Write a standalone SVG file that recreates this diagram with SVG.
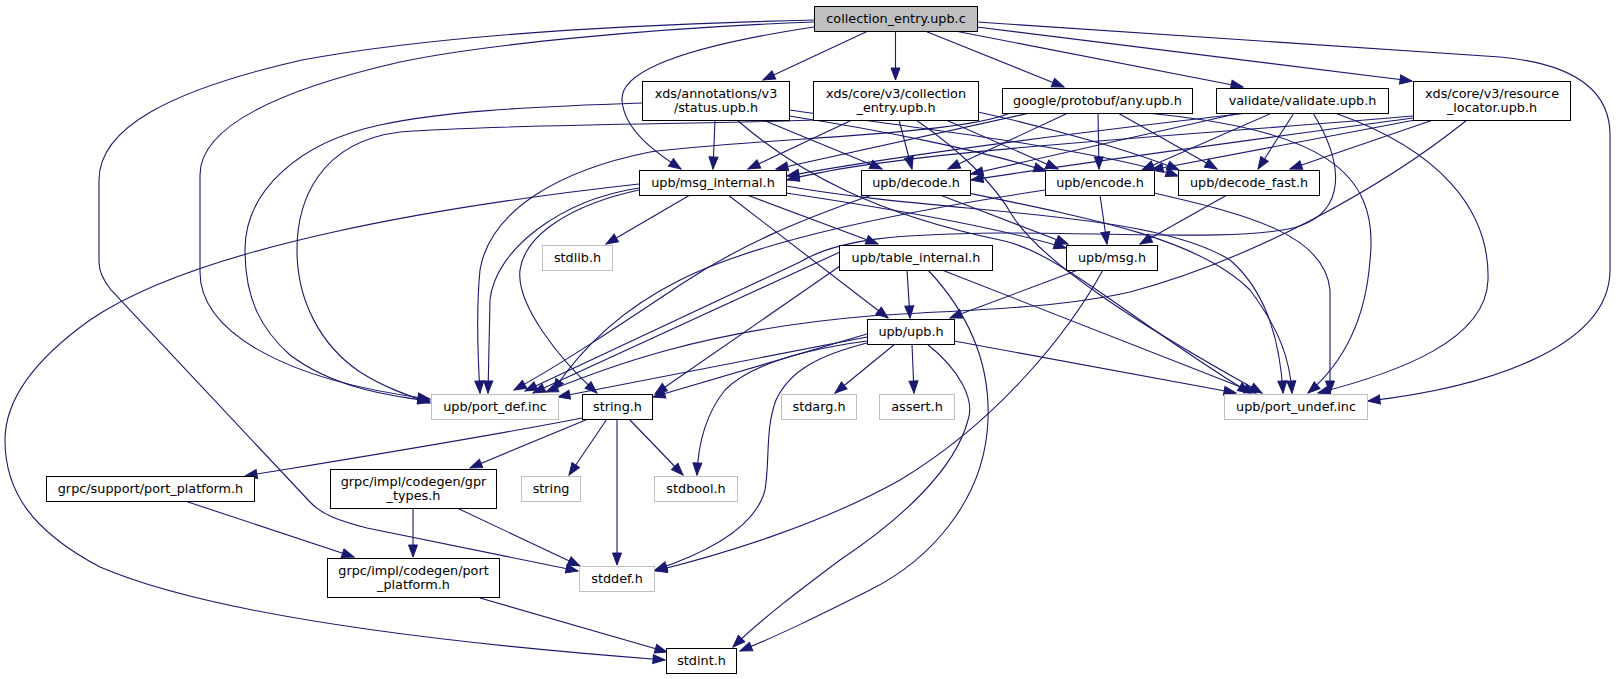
<svg xmlns="http://www.w3.org/2000/svg" width="1618" height="679" viewBox="0 0 1618 679">
<style>
.n rect{fill:#ffffff;stroke:#000000;stroke-width:1}
.n.g rect{stroke:#bfbfbf}
.n.root rect{fill:#bfbfbf}
.n text{font-family:"DejaVu Sans","Liberation Sans",sans-serif;font-size:12.8px;fill:#000000;text-anchor:middle}
#edges path{fill:none;stroke:#191970;stroke-width:1.1;marker-end:url(#ah)}
</style>
<defs>
<marker id="ah" markerWidth="12" markerHeight="9" refX="12" refY="4.5" orient="auto" markerUnits="userSpaceOnUse" overflow="visible">
<path d="M0,0 L12,4.5 L0,9 z" fill="#191970" stroke="#191970" stroke-width="1"/>
</marker>
</defs>
<rect x="0" y="0" width="1618" height="679" fill="#ffffff"/>
<g id="edges">
<path d="M868,31 L763,80"/>
<path d="M895.5,31 L895.5,80"/>
<path d="M925,31 L1064,87"/>
<path d="M955,31 L1243,87"/>
<path d="M977,27 L1412,81"/>
<path d="M977,22 L1500,57 C1565,63 1610,85 1610,135 L1610,270 C1610,350 1480,388 1368,401"/>
<path d="M814,27 C715,42 620,65 622,100 C624,130 655,152 681,169"/>
<path d="M814,22 C650,28 480,45 400,62 C300,85 200,120 200,175 L200,272 C200,330 280,380 430,399"/>
<path d="M814,20 C600,25 420,38 302,60 C170,90 99,128 99,180 L99,262 C99,272 103,280 111,290 L310,502 C322,515 340,521 367,528 L578,571"/>
<path d="M715,120 L713,169"/>
<path d="M763,120 L882,169"/>
<path d="M642,103 C520,107 440,112 380,125 C300,142 245,190 245,250 C245,300 262,330 290,355 C330,385 380,395 430,401"/>
<path d="M789,116 C880,130 980,150 1046,171"/>
<path d="M789,110 C900,125 1100,150 1178,176"/>
<path d="M737,120 C800,175 880,215 1000,240 C1060,252 1130,320 1250,393"/>
<path d="M852,120 L748,169"/>
<path d="M899,120 L912,169"/>
<path d="M946,120 L1058,169"/>
<path d="M978,112 C1050,128 1130,150 1179,170"/>
<path d="M813,120 C720,124 500,124 400,132 C320,142 297,200 297,250 C297,300 320,345 360,372 C385,388 410,396 430,403"/>
<path d="M916,120 C960,150 995,185 1012,215 C1040,260 1130,320 1262,393"/>
<path d="M1030,113 L776,169"/>
<path d="M1068,113 L948,169"/>
<path d="M1098,113 L1099,169"/>
<path d="M1118,113 L1217,169"/>
<path d="M1010,113 C960,135 760,138 650,152 C560,170 490,210 480,270 C476,310 478,360 480,393"/>
<path d="M1147,113 C1320,130 1380,170 1370,260 C1365,330 1335,370 1308,393"/>
<path d="M1248,113 C1100,130 900,155 787,176"/>
<path d="M1240,113 L971,174"/>
<path d="M1272,113 L1142,170"/>
<path d="M1294,113 L1258,169"/>
<path d="M1313,113 C1345,165 1345,210 1300,226 C1250,242 1100,232 1000,233 C900,234 840,238 800,262 L525,391"/>
<path d="M1335,113 C1440,150 1490,210 1488,280 C1486,340 1400,372 1318,393"/>
<path d="M1413,116 C1200,135 900,150 787,180"/>
<path d="M1413,118 C1250,140 1100,160 971,180"/>
<path d="M1415,120 L1151,170"/>
<path d="M1433,120 L1290,169"/>
<path d="M1467,120 C1380,190 1250,260 1130,292 C1050,310 950,310 870,316 C700,330 600,370 546,392"/>
<path d="M940,195 L1068,244"/>
<path d="M872,195 C800,220 740,245 680,285 C620,325 560,365 514,390"/>
<path d="M968,193 C1100,220 1200,240 1250,290 C1280,330 1290,360 1292,393"/>
<path d="M1100,195 L1107,244"/>
<path d="M1045,190 C900,212 760,240 680,280 C620,310 580,350 553,391"/>
<path d="M1154,193 C1250,215 1325,235 1330,290 L1330,393"/>
<path d="M1227,195 L1140,244"/>
<path d="M690,195 L606,244"/>
<path d="M747,195 L878,244"/>
<path d="M728,195 L888,318"/>
<path d="M786,193 C900,210 1000,228 1066,248"/>
<path d="M639,190 C570,205 525,235 520,270 C516,305 560,360 597,393"/>
<path d="M639,188 C560,200 495,250 490,300 L488,393"/>
<path d="M786,186 C950,215 1150,210 1230,260 C1265,290 1280,340 1283,393"/>
<path d="M639,184 C450,205 200,245 90,320 C20,370 5,410 5,440 C5,490 30,530 100,567 C200,610 400,640 665,660"/>
<path d="M907,270 L910,318"/>
<path d="M840,266 L655,394"/>
<path d="M840,252 L533,393"/>
<path d="M942,270 L1256,393"/>
<path d="M928,270 C975,320 990,370 988,420 C985,500 930,560 870,590 C820,615 780,635 740,651"/>
<path d="M895,344 L835,393"/>
<path d="M912,344 L914,393"/>
<path d="M954,341 L1236,393"/>
<path d="M867,337 L558,397"/>
<path d="M867,334 L653,397"/>
<path d="M867,341 C800,350 750,365 725,390 C705,415 698,445 697,475"/>
<path d="M867,343 C820,355 790,370 776,400 C765,430 770,460 765,490 C755,530 700,555 655,570"/>
<path d="M927,344 C960,370 975,400 968,420 C955,470 900,520 840,560 C800,590 760,620 733,647"/>
<path d="M1078,270 L950,318"/>
<path d="M1103,270 C1070,330 1000,420 900,480 C820,525 720,555 655,571"/>
<path d="M582,418 C480,438 330,462 245,476"/>
<path d="M588,419 L470,468"/>
<path d="M607,419 L569,475"/>
<path d="M617,419 L617,565"/>
<path d="M629,419 L683,475"/>
<path d="M185,501 L354,557"/>
<path d="M413,508 L413,557"/>
<path d="M457,508 L580,566"/>
<path d="M480,598 L667,652"/>
</g>
<g id="n_root" class="n root"><rect x="814.5" y="6.5" width="163" height="25"/><text x="896" y="22.5">collection_entry.upb.c</text></g>
<g id="n_status" class="n"><rect x="642.5" y="81.5" width="147" height="39"/><text x="716" y="97.5">xds/annotations/v3</text><text x="716" y="111.5">/status.upb.h</text></g>
<g id="n_coll_entry_h" class="n"><rect x="813.5" y="81.5" width="165" height="39"/><text x="896" y="97.5">xds/core/v3/collection</text><text x="896" y="111.5">_entry.upb.h</text></g>
<g id="n_any" class="n"><rect x="1002.5" y="88.5" width="190" height="25"/><text x="1097.5" y="104.5">google/protobuf/any.upb.h</text></g>
<g id="n_validate" class="n"><rect x="1216.5" y="88.5" width="172" height="25"/><text x="1302.5" y="104.5">validate/validate.upb.h</text></g>
<g id="n_resource_locator" class="n"><rect x="1413.5" y="81.5" width="157" height="39"/><text x="1492" y="97.5">xds/core/v3/resource</text><text x="1492" y="111.5">_locator.upb.h</text></g>
<g id="n_msg_internal" class="n"><rect x="639.5" y="170.5" width="147" height="25"/><text x="713" y="186.5">upb/msg_internal.h</text></g>
<g id="n_decode" class="n"><rect x="861.5" y="170.5" width="109" height="25"/><text x="916" y="186.5">upb/decode.h</text></g>
<g id="n_encode" class="n"><rect x="1045.5" y="170.5" width="109" height="25"/><text x="1100" y="186.5">upb/encode.h</text></g>
<g id="n_decode_fast" class="n"><rect x="1178.5" y="170.5" width="141" height="25"/><text x="1249" y="186.5">upb/decode_fast.h</text></g>
<g id="n_stdlib" class="n g"><rect x="542.5" y="245.5" width="70" height="25"/><text x="577.5" y="261.5">stdlib.h</text></g>
<g id="n_table_internal" class="n"><rect x="839.5" y="245.5" width="153" height="25"/><text x="916" y="261.5">upb/table_internal.h</text></g>
<g id="n_msg" class="n"><rect x="1066.5" y="245.5" width="91" height="25"/><text x="1112" y="261.5">upb/msg.h</text></g>
<g id="n_upb" class="n"><rect x="867.5" y="319.5" width="87" height="25"/><text x="911" y="335.5">upb/upb.h</text></g>
<g id="n_port_def" class="n g"><rect x="431.5" y="394.5" width="127" height="25"/><text x="495" y="410.5">upb/port_def.inc</text></g>
<g id="n_string_h" class="n"><rect x="582.5" y="394.5" width="70" height="25"/><text x="617.5" y="410.5">string.h</text></g>
<g id="n_stdarg" class="n g"><rect x="781.5" y="394.5" width="75" height="25"/><text x="819" y="410.5">stdarg.h</text></g>
<g id="n_assert" class="n g"><rect x="879.5" y="394.5" width="75" height="25"/><text x="917" y="410.5">assert.h</text></g>
<g id="n_port_undef" class="n g"><rect x="1224.5" y="394.5" width="143" height="25"/><text x="1296" y="410.5">upb/port_undef.inc</text></g>
<g id="n_grpc_support" class="n"><rect x="46.5" y="476.5" width="208" height="25"/><text x="150.5" y="492.5">grpc/support/port_platform.h</text></g>
<g id="n_gpr_types" class="n"><rect x="330.5" y="469.5" width="166" height="39"/><text x="413.5" y="485.5">grpc/impl/codegen/gpr</text><text x="413.5" y="499.5">_types.h</text></g>
<g id="n_string" class="n g"><rect x="521.5" y="476.5" width="59" height="25"/><text x="551" y="492.5">string</text></g>
<g id="n_stdbool" class="n g"><rect x="654.5" y="476.5" width="83" height="25"/><text x="696" y="492.5">stdbool.h</text></g>
<g id="n_codegen_port_platform" class="n"><rect x="327.5" y="558.5" width="172" height="39"/><text x="413.5" y="574.5">grpc/impl/codegen/port</text><text x="413.5" y="588.5">_platform.h</text></g>
<g id="n_stddef" class="n g"><rect x="579.5" y="566.5" width="75" height="25"/><text x="617" y="582.5">stddef.h</text></g>
<g id="n_stdint" class="n"><rect x="666.5" y="648.5" width="70" height="25"/><text x="701.5" y="664.5">stdint.h</text></g>
</svg>
